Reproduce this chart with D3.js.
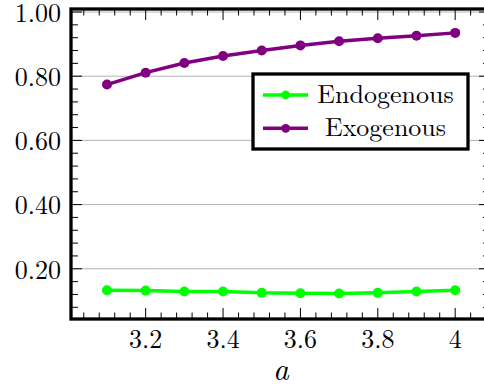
<!DOCTYPE html>
<html>
<head>
<meta charset="utf-8">
<script src="https://cdn.jsdelivr.net/npm/d3@7"></script>
<style>
  body { margin: 0; background: #fff; }
  svg text { font-family: "Latin Modern Roman", "Liberation Serif", serif; fill: #000; }
</style>
</head>
<body>
<svg id="chart" width="484" height="387"></svg>
<script>
// data
var aValues = [3.1, 3.2, 3.3, 3.4, 3.5, 3.6, 3.7, 3.8, 3.9, 4.0];
var endogenous = [0.133, 0.132, 0.129, 0.129, 0.125, 0.124, 0.123, 0.125, 0.129, 0.133];
var exogenous = [0.774, 0.811, 0.841, 0.863, 0.880, 0.896, 0.909, 0.918, 0.926, 0.935];
var xTicks = [3.2, 3.4, 3.6, 3.8, 4];
var yTicks = [0.2, 0.4, 0.6, 0.8, 1.0];
var seriesNames = ["Endogenous", "Exogenous"];
var seriesColors = ["#00ff00", "#800080"];

var svg = d3.select("#chart");

var pLeft = 71, pRight = 490, pTop = 9, pBottom = 319;

var x = d3.scaleLinear().domain([3.007, 4.09]).range([pLeft, pRight]);
var y = d3.scaleLinear().domain([0.0435, 1.0094]).range([pBottom, pTop]);

// minor ticks, 4 between each major
var xMinor = d3.range(3.04, 4.09, 0.04).filter(function(v) {
  return xTicks.every(function(t) { return Math.abs(t - v) > 1e-6; });
});
var yMinor = d3.range(0.08, 1.005, 0.04).filter(function(v) {
  return yTicks.every(function(t) { return Math.abs(t - v) > 1e-6; });
});

// grid
svg.append("g").selectAll("line")
    .data(yTicks)
  .enter().append("line")
    .attr("x1", pLeft).attr("x2", pRight)
    .attr("y1", d => y(d)).attr("y2", d => y(d))
    .style("stroke", "#b4b4b4")
    .style("stroke-width", 1);

// ticks (inside, on all four sides)
var ticks = svg.append("g").style("stroke", "#000").style("stroke-width", 1);
function tickSetX(vals, len) {
  vals.forEach(function(v) {
    ticks.append("line").attr("x1", x(v)).attr("x2", x(v)).attr("y1", pBottom).attr("y2", pBottom - len);
    ticks.append("line").attr("x1", x(v)).attr("x2", x(v)).attr("y1", pTop).attr("y2", pTop + len);
  });
}
function tickSetY(vals, len) {
  vals.forEach(function(v) {
    ticks.append("line").attr("y1", y(v)).attr("y2", y(v)).attr("x1", pLeft).attr("x2", pLeft + len);
    ticks.append("line").attr("y1", y(v)).attr("y2", y(v)).attr("x1", pRight).attr("x2", pRight - len);
  });
}
tickSetX(xTicks, 11);
tickSetX(xMinor, 6.5);
tickSetY(yTicks, 11);
tickSetY(yMinor, 7);

// series
[endogenous, exogenous].forEach(function(vals, k) {
  var g = svg.append("g");
  g.append("path")
      .datum(vals)
      .attr("d", d3.line().x((d, i) => x(aValues[i])).y(d => y(d)))
      .style("fill", "none")
      .style("stroke", seriesColors[k])
      .style("stroke-width", 3.5)
      .style("stroke-linejoin", "round");
  g.selectAll("circle")
      .data(vals)
    .enter().append("circle")
      .attr("cx", (d, i) => x(aValues[i]))
      .attr("cy", d => y(d))
      .attr("r", 5)
      .style("fill", seriesColors[k]);
});

// frame
svg.append("rect")
    .attr("x", pLeft).attr("y", pTop)
    .attr("width", pRight - pLeft).attr("height", pBottom - pTop)
    .style("fill", "none")
    .style("stroke", "#000")
    .style("stroke-width", 3.3);

// tick labels
svg.append("g").selectAll("text")
    .data(xTicks)
  .enter().append("text")
    .attr("x", d => x(d))
    .attr("y", 347.5)
    .attr("text-anchor", "middle")
    .style("font-size", "26px")
    .text(d => d3.format("")(d));

svg.append("g").selectAll("text")
    .data(yTicks)
  .enter().append("text")
    .attr("x", 61)
    .attr("y", d => y(d) + 9.8)
    .attr("text-anchor", "end")
    .style("font-size", "26px")
    .text(d => d3.format(".2f")(d));

// axis label
svg.append("text")
    .attr("x", 281)
    .attr("y", 380)
    .attr("text-anchor", "middle")
    .style("font-size", "31px")
    .style("font-style", "italic")
    .text("a");

// legend
var legend = svg.append("g");
legend.append("rect")
    .attr("x", 253).attr("y", 74)
    .attr("width", 215).attr("height", 75)
    .style("fill", "#fff")
    .style("stroke", "#000")
    .style("stroke-width", 3.3);

var legendY = [95, 128.3];
seriesNames.forEach(function(name, k) {
  legend.append("line")
      .attr("x1", 263).attr("x2", 308)
      .attr("y1", legendY[k]).attr("y2", legendY[k])
      .style("stroke", seriesColors[k])
      .style("stroke-width", 3.5);
  legend.append("circle")
      .attr("cx", 285.7).attr("cy", legendY[k])
      .attr("r", 4.4)
      .style("fill", seriesColors[k]);
  legend.append("text")
      .attr("x", 385.5)
      .attr("y", legendY[k] + 7.7)
      .attr("text-anchor", "middle")
      .style("font-size", "26px")
      .text(name);
});
</script>
</body>
</html>
